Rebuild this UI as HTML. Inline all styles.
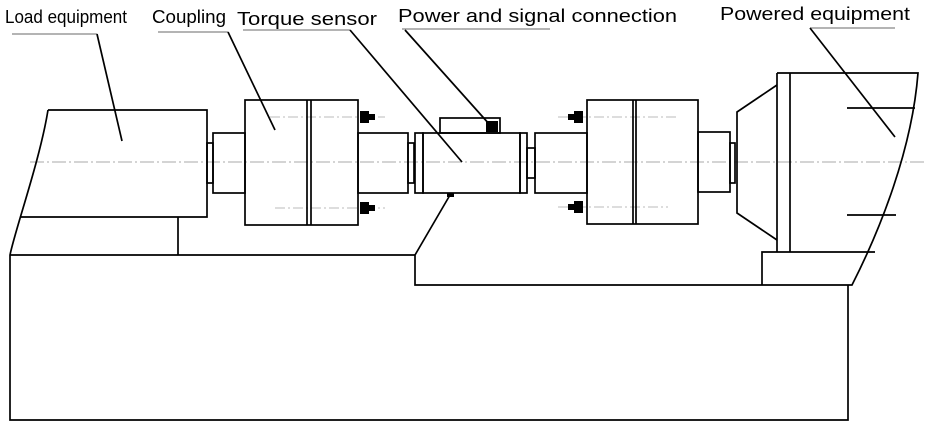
<!DOCTYPE html>
<html><head><style>body{margin:0;background:#fff}svg{display:block}</style></head><body>
<svg width="927" height="427" viewBox="0 0 927 427" xmlns="http://www.w3.org/2000/svg" font-family="Liberation Sans, Arial, sans-serif" font-size="18">
<g fill="#000">
<text x="5" y="23" textLength="122" lengthAdjust="spacingAndGlyphs">Load equipment</text>
<text x="152" y="23" textLength="74" lengthAdjust="spacingAndGlyphs">Coupling</text>
<text x="237" y="25" textLength="140" lengthAdjust="spacingAndGlyphs">Torque sensor</text>
<text x="398" y="22" textLength="279" lengthAdjust="spacingAndGlyphs">Power and signal connection</text>
<text x="720" y="20" textLength="190" lengthAdjust="spacingAndGlyphs">Powered equipment</text>
</g>
<g stroke="#888" stroke-width="1.2" fill="none">
<line x1="12" y1="34" x2="97" y2="34"/><line x1="158" y1="32" x2="228" y2="32"/>
<line x1="243" y1="30" x2="350" y2="30"/><line x1="402" y1="29" x2="550" y2="29"/>
<line x1="810" y1="28" x2="895" y2="28"/>
</g>
<line x1="30" y1="162" x2="927" y2="162" stroke="#aaa" stroke-width="1" stroke-dasharray="14,3,2,3"/>
<line x1="270" y1="117" x2="385" y2="117" stroke="#bbb" stroke-dasharray="10,3,2,3"/>
<line x1="275" y1="208" x2="385" y2="208" stroke="#bbb" stroke-dasharray="10,3,2,3"/>
<line x1="558" y1="117" x2="677" y2="117" stroke="#bbb" stroke-dasharray="10,3,2,3"/>
<line x1="558" y1="207" x2="668" y2="207" stroke="#bbb" stroke-dasharray="10,3,2,3"/>
<g stroke="#000" stroke-width="1.7" fill="none">
<line x1="97" y1="34" x2="122" y2="141"/><line x1="228" y1="32" x2="275" y2="130"/>
<line x1="350" y1="30" x2="462" y2="162"/><line x1="405" y1="30" x2="490" y2="125"/>
<line x1="810" y1="28" x2="895" y2="137"/><line x1="450" y1="195" x2="415" y2="255"/>
<path d="M48 110 C40 160 15 230 10 255 L10 420 L848 420 L848 285"/>
<path d="M10 255 L415 255 L415 285 L852 285 C880 230 912 150 918 73 L777 73"/>
<line x1="178" y1="217" x2="178" y2="255"/>
<path d="M48 110 L207 110 L207 217 L20 217"/>
<rect x="207" y="143" width="6" height="40"/>
<rect x="213" y="133" width="32" height="60"/>
<rect x="245" y="100" width="113" height="125"/>
<line x1="307" y1="100" x2="307" y2="225"/><line x1="311" y1="100" x2="311" y2="225"/>
<rect x="358" y="133" width="50" height="60"/>
<rect x="408" y="143" width="6" height="40"/>
<rect x="415" y="133" width="8" height="60"/>
<rect x="423" y="133" width="97" height="60"/>
<rect x="440" y="118" width="60" height="15"/>
<rect x="520" y="133" width="7" height="60"/>
<rect x="527" y="148" width="8" height="30"/>
<rect x="535" y="133" width="52" height="60"/>
<rect x="587" y="100" width="111" height="124"/>
<line x1="633" y1="100" x2="633" y2="224"/><line x1="636" y1="100" x2="636" y2="224"/>
<rect x="698" y="132" width="32" height="60"/>
<rect x="730" y="143" width="5" height="40"/>
<path d="M777 85 L737 112 L737 213 L777 240"/>
<line x1="777" y1="73" x2="777" y2="252"/><line x1="790" y1="73" x2="790" y2="252"/>
<line x1="847" y1="108" x2="915" y2="108"/><line x1="847" y1="215" x2="896" y2="215"/>
<path d="M762 285 L762 252 L875 252"/>
</g>
<g fill="#000">
<rect x="360" y="111" width="9" height="12"/><rect x="369" y="114" width="6" height="6"/>
<rect x="360" y="202" width="9" height="12"/><rect x="369" y="205" width="6" height="6"/>
<rect x="574" y="111" width="9" height="12"/><rect x="568" y="114" width="6" height="6"/>
<rect x="574" y="201" width="9" height="12"/><rect x="568" y="204" width="6" height="6"/>
<rect x="486" y="121" width="12" height="11"/>
<rect x="447" y="193" width="7" height="4"/>
</g>
</svg>
</body></html>
